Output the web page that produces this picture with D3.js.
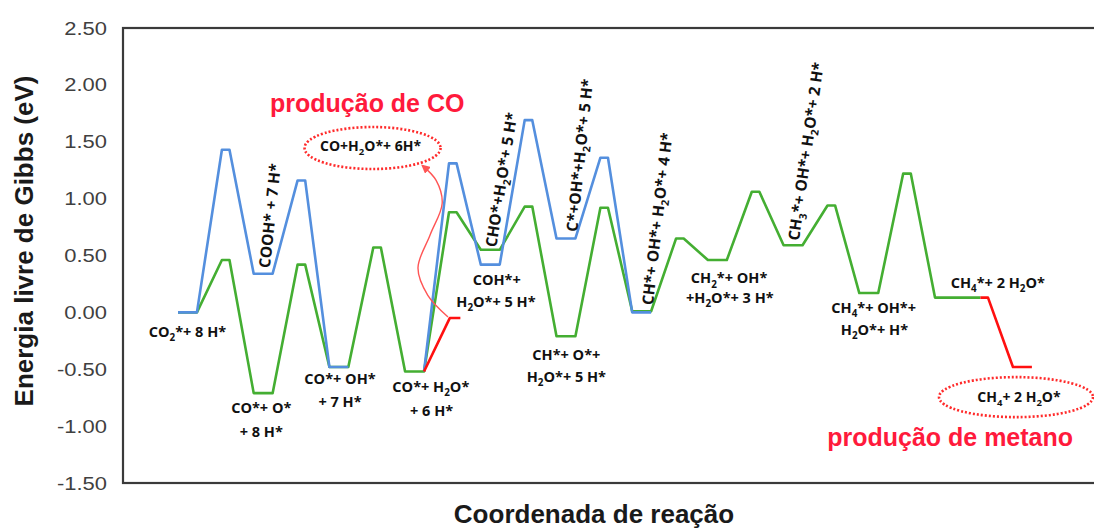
<!DOCTYPE html>
<html><head><meta charset="utf-8">
<script src="https://cdn.jsdelivr.net/npm/d3@7"></script>
<style>body{margin:0;background:#fff;overflow:hidden}</style>
</head><body>
<svg id="chart" width="1094" height="529"></svg>
<script>
// ---------- data ----------
const yTicks = [-1.5, -1.0, -0.5, 0.0, 0.5, 1.0, 1.5, 2.0, 2.5];
// energies of intermediates (levels) and transition states (peaks), eV
const greenLevels = [0.00, -0.71, -0.48, -0.52, 0.55, -0.21, 0.01, 0.46, 0.59, 0.17, 0.13];
const greenPeaks  = [0.46, 0.42, 0.57, 0.88, 0.93, 0.92, 0.65, 1.06, 0.94, 1.22];
const blueLevels  = [0.00, 0.34, -0.48, -0.52, 0.42, 0.65, 0.00];
const bluePeaks   = [1.43, 1.16, null, 1.31, 1.69, 1.36];
const coProductEnergy = -0.05;
const methaneProductEnergy = -0.48;

const stateLabels = [
  ["CO_2*+ 8 H*"], ["CO*+ O*", "+ 8 H*"], ["CO*+ OH*", "+ 7 H*"], ["CO*+ H_2O*", "+ 6 H*"],
  ["COH*+", "H_2O*+ 5 H*"], ["CH*+ O*+", "H_2O*+ 5 H*"], ["CH_2*+ OH*", "+H_2O*+ 3 H*"],
  ["CH_4*+ OH*+", "H_2O*+ H*"], ["CH_4*+ 2 H_2O*"]
];
const verticalLabels = ["COOH* + 7 H*", "CHO*+H_2O*+ 5 H*", "C*+OH*+H_2O*+ 5 H*",
  "CH*+ OH*+ H_2O*+ 4 H*", "CH_3*+ OH*+ H_2O*+ 2 H*"];
const productLabels = ["CO+H_2O*+ 6H*", "CH_4+ 2 H_2O*"];
const productTitles = ["produção de CO", "produção de metano"];
const yTitle = "Energia livre de Gibbs (eV)";
const xTitle = "Coordenada de reação";

// ---------- layout ----------
const plot = {left: 123, top: 28, bottom: 483, right: 1100};
const x = d3.scaleLinear().domain([0, 11]).range([178, 178 + 75.7 * 11]);
const y = d3.scaleLinear().domain([-1.5, 2.5]).range([plot.bottom, plot.top]);
const LW = 0.25, PA = 0.58, PB = 0.68;

const svg = d3.select("#chart");

// frame
svg.append("rect").attr("x", plot.left).attr("y", plot.top)
  .attr("width", plot.right - plot.left).attr("height", plot.bottom - plot.top)
  .attr("fill", "none").attr("stroke", "#3a3a3a").attr("stroke-width", 2.2);

// y tick labels
svg.append("g").selectAll("text").data(yTicks).join("text")
  .attr("transform", d => `translate(107,${y(d) + 6.5}) scale(1.22,1)`)
  .attr("text-anchor", "end").attr("font-family", "Liberation Sans, Arial, sans-serif")
  .attr("font-size", 18).attr("fill", "#404040")
  .text(d => d.toFixed(2));

// axis titles
svg.append("text").attr("transform", `translate(33,241) rotate(-90)`)
  .attr("text-anchor", "middle").attr("font-family", "Liberation Sans, Arial, sans-serif")
  .attr("font-weight", "bold").attr("font-size", 26).attr("fill", "#1a1a1a").text(yTitle);
svg.append("text").attr("x", 594).attr("y", 523)
  .attr("text-anchor", "middle").attr("font-family", "Liberation Sans, Arial, sans-serif")
  .attr("font-weight", "bold").attr("font-size", 26).attr("fill", "#1a1a1a").text(xTitle);

// build energy profile points
function profile(levels, peaks, lastEnd) {
  const pts = [];
  levels.forEach((L, i) => {
    const incoming = i === 0 || peaks[i - 1] != null;
    pts.push({x: i, y: L, ok: incoming});
    const end = (i === levels.length - 1 && lastEnd != null) ? lastEnd : i + LW;
    pts.push({x: end, y: L, ok: true});
    if (i < peaks.length) {
      const P = peaks[i];
      pts.push({x: i + PA, y: P, ok: P != null});
      pts.push({x: i + PB, y: P, ok: P != null});
    }
  });
  return pts;
}
const line = d3.line().defined(d => d.ok).x(d => x(d.x)).y(d => y(d.y));

const greenPts = profile(greenLevels, greenPeaks, 10.6);
const bluePts = profile(blueLevels, bluePeaks);

svg.append("path").attr("d", line(greenPts)).attr("fill", "none")
  .attr("stroke", "#44ae32").attr("stroke-width", 2.6).attr("stroke-linejoin", "round");
svg.append("path").attr("d", line(bluePts)).attr("fill", "none")
  .attr("stroke", "#548fde").attr("stroke-width", 2.6).attr("stroke-linejoin", "round");

// red product branches
const coBranch = [
  {x: 3 + LW, y: greenLevels[3], ok: true},
  {x: 3.59, y: coProductEnergy, ok: true},
  {x: 3.73, y: coProductEnergy, ok: true}
];
const ch4Branch = [
  {x: 10.6, y: greenLevels[10], ok: true},
  {x: 10.7, y: greenLevels[10], ok: true},
  {x: 11.03, y: methaneProductEnergy, ok: true},
  {x: 11.28, y: methaneProductEnergy, ok: true}
];
[coBranch, ch4Branch].forEach(b => svg.append("path").attr("d", line(b)).attr("fill", "none")
  .attr("stroke", "#ff1010").attr("stroke-width", 2.6).attr("stroke-linejoin", "round"));

// curved arrow to CO product
svg.append("defs").append("marker").attr("id", "ah").attr("viewBox", "0 0 10 10")
  .attr("refX", 8).attr("refY", 5).attr("markerWidth", 9).attr("markerHeight", 9)
  .attr("markerUnits", "userSpaceOnUse").attr("orient", "auto")
  .append("path").attr("d", "M0,0 L10,5 L0,10 z").attr("fill", "#ff5555");
const arrowPts = [[3.567, -0.04], [3.30, 0.15], [3.17, 0.39], [3.33, 0.68], [3.49, 0.96], [3.41, 1.16], [3.23, 1.29]];
svg.append("path").attr("d", d3.line().curve(d3.curveCatmullRom).x(d => x(d[0])).y(d => y(d[1]))(arrowPts))
  .attr("fill", "none").attr("stroke", "#ff5555").attr("stroke-width", 1.4).attr("marker-end", "url(#ah)");

// rich text with subscripts
const LF = "Open Sans, Noto Sans, sans-serif";
function rich(sel, str, fs) {
  const parts = str.split(/(_\d)/).filter(p => p !== "");
  let prevSub = false;
  parts.forEach(p => {
    if (p[0] === "_") {
      sel.append("tspan").attr("dy", fs * 0.28).attr("font-size", fs * 0.68).text(p.slice(1));
      prevSub = true;
    } else {
      const t = sel.append("tspan").text(p);
      if (prevSub) t.attr("dy", -fs * 0.28);
      prevSub = false;
    }
  });
}
function label(g, str, px, py, fs, rot) {
  const t = g.append("text").attr("text-anchor", rot ? "start" : "middle")
    .attr("font-family", LF).attr("font-weight", "bold").attr("font-size", fs).attr("fill", "#111")
    .attr("transform", rot ? `translate(${px},${py}) rotate(${rot})` : `translate(${px},${py})`)
    .attr("dy", "0.36em");
  rich(t, str, fs);
  return t;
}

const lab = svg.append("g");
// positions of state labels (reaction coordinate, energy) for each line of text
const statePos = [
  [[0.125, -0.17]], [[1.10, -0.84], [1.10, -1.05]], [[2.14, -0.58], [2.14, -0.79]],
  [[3.34, -0.655], [3.35, -0.867]], [[4.21, 0.285], [4.20, 0.09]], [[5.13, -0.375], [5.13, -0.57]],
  [[7.28, 0.30], [7.29, 0.125]], [[9.19, 0.04], [9.20, -0.155]], [[10.83, 0.26]]
];
stateLabels.forEach((lines, i) => lines.forEach((s, j) =>
  label(lab, s, x(statePos[i][j][0]), y(statePos[i][j][1]), 14.5)));

const vertPos = [[1.14, 0.39, -84], [4.13, 0.575, -81], [5.2, 0.71, -84], [6.2, 0.065, -83.5], [8.13, 0.635, -82]];
verticalLabels.forEach((s, i) => label(lab, s, x(vertPos[i][0]), y(vertPos[i][1]), 15.5, vertPos[i][2]));

// product ellipses
const ellPos = [[2.57, 1.445, 68, 21], [11.07, -0.745, 77, 20]];
ellPos.forEach(([cx, cy, rx, ry], i) => {
  svg.append("ellipse").attr("cx", x(cx)).attr("cy", y(cy)).attr("rx", rx).attr("ry", ry)
    .attr("fill", "none").attr("stroke", "#ff2a2a").attr("stroke-width", 2.6)
    .attr("stroke-dasharray", "2 2");
  label(lab, productLabels[i], x(cx) + (i ? 3 : -2), y(cy) + (i ? 0 : -2), 14);
});

// product titles
const titlePos = [[2.50, 112], [10.20, 446]];
productTitles.forEach((s, i) => svg.append("text").attr("x", x(titlePos[i][0])).attr("y", titlePos[i][1])
  .attr("text-anchor", "middle").attr("font-family", "Liberation Sans, Arial, sans-serif")
  .attr("font-weight", "bold").attr("font-size", 25).attr("fill", "#ff1a3c").text(s));
</script>
</body></html>
